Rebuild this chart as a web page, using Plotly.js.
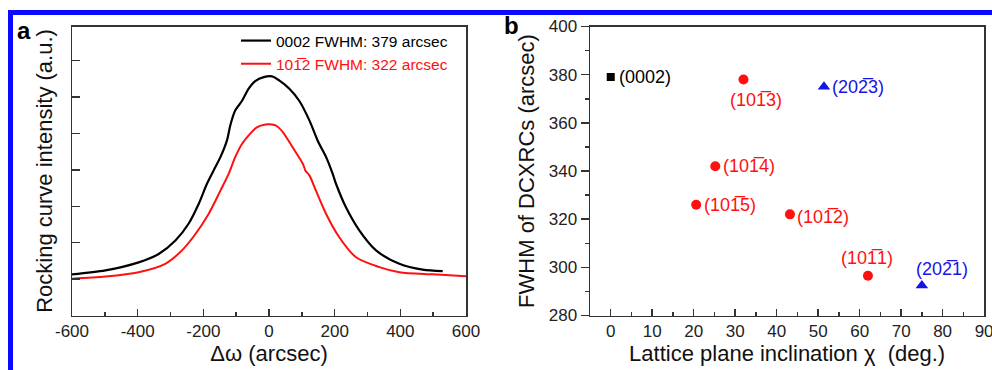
<!DOCTYPE html>
<html>
<head>
<meta charset="utf-8">
<script src="https://cdn.plot.ly/plotly-3.0.1.min.js"></script>
<style>
  html, body { margin: 0; padding: 0; background: #fff; }
  #chart { width: 992px; height: 370px; }
</style>
</head>
<body>
<div id="chart"></div>
<script>
// ---- Panel a: rocking curves ----
const dOmega0002 = [-600,-498,-397,-336,-285,-245,-214,-189,-169,-148,-128,-118,-103,-82,-62,-42,-16,9,31,62,92,123,148,174,194,204,234,275,326,397,468,529];
const intensity0002 = [1.13,1.24,1.46,1.69,2.06,2.52,3.07,3.62,3.98,4.35,4.81,5.22,5.63,5.90,6.23,6.44,6.55,6.57,6.46,6.23,5.90,5.36,4.81,4.35,3.89,3.62,2.98,2.34,1.79,1.42,1.26,1.22];
const dOmega1012 = [-600,-498,-397,-316,-265,-224,-184,-148,-123,-103,-82,-62,-37,-11,9,21,42,72,103,111,123,143,174,214,265,336,397,499,600];
const intensity1012 = [1.01,1.07,1.19,1.42,1.79,2.24,2.79,3.43,3.89,4.35,4.72,4.95,5.17,5.25,5.25,5.22,5.04,4.62,4.17,3.98,3.85,3.43,2.79,2.15,1.60,1.33,1.19,1.13,1.08];
const legendNames = ['0002 FWHM: 379 arcsec', '101\u03052 FWHM: 322 arcsec'];

// ---- Panel b: FWHM vs inclination ----
const chi0002 = [0];
const fwhm0002 = [379];
const label0002 = ['(0002)'];
const chi101l = [32, 25.2, 20.6, 43.2, 62];
const fwhm101l = [378, 342, 326, 322, 296.5];
const label101l = ['(101\u03053)', '(101\u03054)', '(101\u03055)', '(101\u03052)', '(101\u03051)'];
const chi202l = [51.4, 75];
const fwhm202l = [375, 292.5];
const label202l = ['(202\u03053)', '(202\u03051)'];

// axis ticks
const xTicksA = [-600,-400,-200,0,200,400,600];
const xTickTextA = ['-600','-400','-200','0','200','400','600'];
const yTicksA = [1,2,3,4,5,6,7];

const RED = '#ff1010', BLUE = '#1414e6', FONT = '"Liberation Sans", Arial, sans-serif';

const traces = [
  {x: dOmega0002, y: intensity0002, type: 'scatter', mode: 'lines', name: legendNames[0],
   line: {color: '#000', width: 2.2, shape: 'spline', smoothing: 0.8}, xaxis: 'x', yaxis: 'y'},
  {x: dOmega1012, y: intensity1012, type: 'scatter', mode: 'lines',
   name: '<span style="color:' + RED + '">' + legendNames[1] + '</span>',
   line: {color: RED, width: 2, shape: 'spline', smoothing: 0.8}, xaxis: 'x', yaxis: 'y'},
  {x: chi0002, y: fwhm0002, type: 'scatter', mode: 'markers', showlegend: false,
   marker: {symbol: 'square', size: 8, color: '#000'}, xaxis: 'x2', yaxis: 'y2'},
  {x: chi101l, y: fwhm101l, type: 'scatter', mode: 'markers', showlegend: false,
   marker: {symbol: 'circle', size: 10, color: RED}, xaxis: 'x2', yaxis: 'y2'},
  {x: chi202l, y: fwhm202l, type: 'scatter', mode: 'markers', showlegend: false,
   marker: {symbol: 'triangle-up', size: 11, color: BLUE}, xaxis: 'x2', yaxis: 'y2'}
];

// label placement (style only)
const place0002 = [{xa: 'left', dx: 6, dy: 0}];
const place101l = [{xa: 'center', dx: 13, dy: -21}, {xa: 'left', dx: 6, dy: 0}, {xa: 'left', dx: 6, dy: 0},
                   {xa: 'left', dx: 5, dy: -3}, {xa: 'center', dx: -1, dy: 18}];
const place202l = [{xa: 'left', dx: 6, dy: 0}, {xa: 'center', dx: 20, dy: 16}];

const annotations = [];
function addLabels(xs, ys, texts, places, color) {
  for (let i = 0; i < xs.length; i++) {
    annotations.push({x: xs[i], y: ys[i], xref: 'x2', yref: 'y2', text: texts[i], showarrow: false,
      xanchor: places[i].xa, yanchor: 'middle', xshift: places[i].dx, yshift: places[i].dy,
      font: {family: FONT, size: 18, color: color}});
  }
}
addLabels(chi0002, fwhm0002, label0002, place0002, '#000');
addLabels(chi101l, fwhm101l, label101l, place101l, RED);
addLabels(chi202l, fwhm202l, label202l, place202l, BLUE);
annotations.push({text: '<b>a</b>', xref: 'paper', yref: 'paper', x: 15/992, y: 1 - 30/370,
  xanchor: 'left', yanchor: 'middle', showarrow: false, font: {family: FONT, size: 24, color: '#000'}});
annotations.push({text: '<b>b</b>', xref: 'paper', yref: 'paper', x: 502/992, y: 1 - 26/370,
  xanchor: 'left', yanchor: 'middle', showarrow: false, font: {family: FONT, size: 24, color: '#000'}});

const axisCommon = {showline: true, mirror: true, linecolor: '#333', linewidth: 1.5, showgrid: false,
  zeroline: false, automargin: false, ticklabeloverflow: 'allow',
  tickfont: {family: FONT, size: 17, color: '#222'}, tickcolor: '#333', tickwidth: 1.5};
const yDom = [1 - 315.5/370, 1 - 26.5/370];
const titleFont = {family: FONT, size: 22, color: '#111'};

const layout = {
  width: 992, height: 370,
  margin: {l: 0, r: 0, t: 0, b: 0},
  paper_bgcolor: '#fff', plot_bgcolor: '#fff',
  font: {family: FONT, color: '#000'},
  showlegend: true,
  legend: {x: 236/992, y: 1 - 24/370, xanchor: 'left', yanchor: 'top', bgcolor: 'rgba(0,0,0,0)',
    font: {family: FONT, size: 15.5, color: '#000'}, tracegroupgap: 0, itemwidth: 30},
  xaxis: Object.assign({}, axisCommon, {domain: [72/992, 466/992], anchor: 'y', range: [-600, 600],
    tickvals: xTicksA, ticktext: xTickTextA, ticks: 'inside', ticklen: 7,
    minor: {dtick: 100, tick0: -600, ticks: 'inside', ticklen: 4, tickcolor: '#333', tickwidth: 1.5},
    title: {text: '\u0394\u03c9 (arcsec)', font: titleFont, standoff: 3}}),
  yaxis: Object.assign({}, axisCommon, {domain: yDom, anchor: 'x', range: [0, 7.94],
    tickvals: yTicksA, showticklabels: false, ticks: 'inside', ticklen: 8,
    title: {text: 'Rocking curve intensity (a.u.)', font: titleFont, standoff: 12}}),
  xaxis2: Object.assign({}, axisCommon, {domain: [590/992, 984.3/992], anchor: 'y2', range: [-5, 90.05],
    tick0: 0, dtick: 10, ticks: 'inside', ticklen: 7,
    minor: {dtick: 5, tick0: 0, ticks: 'inside', ticklen: 4, tickcolor: '#333', tickwidth: 1.5},
    title: {text: 'Lattice plane inclination \u03c7  (deg.)', font: titleFont, standoff: 3}}),
  yaxis2: Object.assign({}, axisCommon, {domain: yDom, anchor: 'x2', range: [280, 400],
    tick0: 280, dtick: 20, ticks: 'outside', ticklen: 8,
    minor: {dtick: 10, tick0: 280, ticks: 'outside', ticklen: 4, tickcolor: '#333', tickwidth: 1.5},
    title: {text: 'FWHM of DCXRCs (arcsec)', font: titleFont, standoff: 8}}),
  annotations: annotations,
  shapes: [
    {type: 'rect', xref: 'paper', yref: 'paper', x0: 8/992, x1: 13/992, y0: 0, y1: 1 - 10/370,
     fillcolor: '#0a0aff', line: {width: 0}, layer: 'above'},
    {type: 'rect', xref: 'paper', yref: 'paper', x0: 8/992, x1: 1, y0: 1 - 15/370, y1: 1 - 10/370,
     fillcolor: '#0a0aff', line: {width: 0}, layer: 'above'}
  ]
};

Plotly.newPlot('chart', traces, layout, {displayModeBar: false, staticPlot: true});
</script>
</body>
</html>
